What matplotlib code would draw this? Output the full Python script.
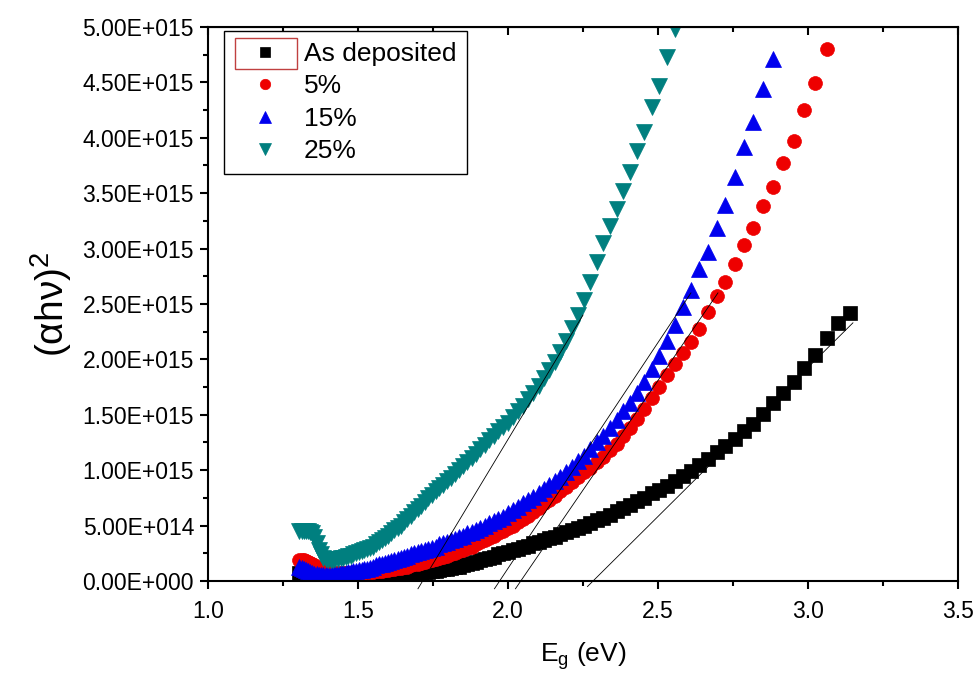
import numpy as np
import matplotlib
matplotlib.use("Agg")
import matplotlib.pyplot as plt
from matplotlib.ticker import MultipleLocator, FuncFormatter
from matplotlib.patches import Rectangle

plt.rcParams['font.family'] = ['Liberation Sans', 'DejaVu Sans']
plt.rcParams['mathtext.fontset'] = 'custom'
plt.rcParams['mathtext.rm'] = 'Liberation Sans'
plt.rcParams['mathtext.it'] = 'Liberation Sans:italic'

# photon energy grid (eV), shared by all samples
energy = [1.305, 1.312, 1.319, 1.326, 1.333, 1.341, 1.348, 1.355, 1.363, 1.370,
          1.378, 1.385, 1.393, 1.401, 1.409, 1.417, 1.425, 1.434, 1.442, 1.450,
          1.459, 1.467, 1.476, 1.485, 1.494, 1.503, 1.512, 1.521, 1.531, 1.540,
          1.550, 1.560, 1.570, 1.580, 1.590, 1.600, 1.610, 1.621, 1.632, 1.642,
          1.653, 1.664, 1.676, 1.687, 1.699, 1.710, 1.722, 1.734, 1.746, 1.759,
          1.771, 1.784, 1.797, 1.810, 1.824, 1.837, 1.851, 1.865, 1.879, 1.893,
          1.908, 1.922, 1.938, 1.953, 1.968, 1.984, 2.000, 2.016, 2.033, 2.050,
          2.067, 2.084, 2.102, 2.120, 2.138, 2.157, 2.175, 2.195, 2.214, 2.234,
          2.255, 2.275, 2.296, 2.318, 2.340, 2.362, 2.385, 2.408, 2.431, 2.455,
          2.480, 2.505, 2.531, 2.557, 2.583, 2.611, 2.638, 2.667, 2.696, 2.725,
          2.756, 2.787, 2.818, 2.851, 2.884, 2.918, 2.952, 2.988, 3.024, 3.062,
          3.100, 3.139]

# (alpha h nu)^2 in units of 1e15
as_deposited = [0.07, 0.07, 0.06, 0.06, 0.06, 0.05, 0.05, 0.05, 0.05, 0.05,
                0.05, 0.05, 0.05, 0.05, 0.05, 0.05, 0.05, 0.05, 0.05, 0.05,
                0.05, 0.05, 0.05, 0.05, 0.05, 0.05, 0.05, 0.05, 0.05, 0.05,
                0.05, 0.05, 0.05, 0.06, 0.06, 0.06, 0.06, 0.06, 0.06, 0.06,
                0.06, 0.07, 0.07, 0.07, 0.07, 0.08, 0.08, 0.08, 0.09, 0.09,
                0.10, 0.11, 0.11, 0.12, 0.13, 0.13, 0.14, 0.15, 0.16, 0.17,
                0.19, 0.20, 0.21, 0.22, 0.24, 0.25, 0.26, 0.28, 0.29, 0.31,
                0.32, 0.34, 0.35, 0.37, 0.39, 0.40, 0.42, 0.44, 0.46, 0.48,
                0.50, 0.52, 0.55, 0.57, 0.60, 0.63, 0.66, 0.69, 0.72, 0.75,
                0.79, 0.82, 0.86, 0.90, 0.95, 0.99, 1.05, 1.10, 1.16, 1.22,
                1.28, 1.35, 1.42, 1.51, 1.61, 1.70, 1.80, 1.92, 2.04, 2.19,
                2.33, 2.42]

pct5 = [0.19, 0.19, 0.19, 0.18, 0.17, 0.16, 0.15, 0.14, 0.13, 0.12,
        0.11, 0.10, 0.09, 0.08, 0.08, 0.07, 0.07, 0.07, 0.07, 0.07,
        0.07, 0.07, 0.07, 0.07, 0.07, 0.07, 0.07, 0.08, 0.08, 0.08,
        0.08, 0.09, 0.09, 0.09, 0.10, 0.10, 0.11, 0.11, 0.12, 0.12,
        0.13, 0.13, 0.14, 0.15, 0.155, 0.16, 0.17, 0.18, 0.19, 0.20,
        0.21, 0.22, 0.23, 0.24, 0.25, 0.27, 0.28, 0.30, 0.31, 0.33,
        0.35, 0.37, 0.39, 0.41, 0.43, 0.45, 0.48, 0.50, 0.53, 0.56,
        0.59, 0.62, 0.66, 0.70, 0.73, 0.77, 0.81, 0.85, 0.89, 0.94,
        0.98, 1.02, 1.07, 1.12, 1.18, 1.24, 1.31, 1.38, 1.46, 1.55,
        1.65, 1.75, 1.86, 1.96, 2.06, 2.16, 2.27, 2.43, 2.57, 2.70,
        2.86, 3.03, 3.19, 3.38, 3.56, 3.77, 3.97, 4.25, 4.49, 4.80]

pct15 = [0.13, 0.12, 0.11, 0.10, 0.09, 0.08, 0.07, 0.06, 0.06, 0.05,
         0.05, 0.05, 0.05, 0.05, 0.05, 0.06, 0.06, 0.06, 0.07, 0.07,
         0.07, 0.08, 0.08, 0.09, 0.09, 0.10, 0.10, 0.11, 0.11, 0.12,
         0.13, 0.14, 0.15, 0.15, 0.16, 0.17, 0.18, 0.19, 0.20, 0.21,
         0.22, 0.23, 0.24, 0.25, 0.26, 0.27, 0.28, 0.29, 0.30, 0.31,
         0.33, 0.34, 0.35, 0.37, 0.38, 0.40, 0.41, 0.43, 0.44, 0.46,
         0.48, 0.50, 0.52, 0.54, 0.56, 0.58, 0.61, 0.64, 0.67, 0.70,
         0.73, 0.76, 0.79, 0.83, 0.87, 0.90, 0.94, 0.98, 1.03, 1.08,
         1.13, 1.19, 1.25, 1.31, 1.38, 1.45, 1.53, 1.61, 1.70, 1.80,
         1.91, 2.03, 2.17, 2.31, 2.47, 2.63, 2.82, 2.97, 3.19, 3.39,
         3.65, 3.92, 4.14, 4.44, 4.71]

pct25 = [0.45, 0.45, 0.45, 0.45, 0.45, 0.44, 0.43, 0.40, 0.34, 0.28,
         0.24, 0.21, 0.20, 0.19, 0.19, 0.19, 0.20, 0.20, 0.21, 0.21,
         0.22, 0.23, 0.23, 0.24, 0.25, 0.26, 0.27, 0.28, 0.29, 0.30,
         0.31, 0.33, 0.35, 0.37, 0.39, 0.41, 0.43, 0.46, 0.48, 0.50,
         0.53, 0.56, 0.59, 0.62, 0.65, 0.68, 0.71, 0.75, 0.78, 0.81,
         0.84, 0.87, 0.90, 0.93, 0.97, 1.00, 1.04, 1.07, 1.11, 1.15,
         1.19, 1.23, 1.27, 1.31, 1.35, 1.39, 1.43, 1.48, 1.53, 1.58,
         1.64, 1.70, 1.76, 1.83, 1.90, 1.98, 2.07, 2.17, 2.28, 2.40,
         2.54, 2.70, 2.88, 3.05, 3.20, 3.36, 3.52, 3.69, 3.88, 4.05,
         4.28, 4.47, 4.73, 4.98]

samples = ['As deposited', '5%', '15%', '25%']
series = [as_deposited, pct5, pct15, pct25]
colors = ['#000000', '#ee0000', '#0000ee', '#007f7f']
markers = ['s', 'o', '^', 'v']
sizes = [9.5, 10, 11, 11]

# linear extrapolation lines (start and end points in eV, 1e15 units)
fit_x = [(1.700, 2.250), (1.955, 2.610), (2.025, 2.700), (2.265, 3.150)]
fit_y = [(-0.07, 2.40), (-0.07, 2.60), (-0.07, 2.60), (-0.05, 2.33)]

fig = plt.figure(figsize=(9.75, 6.73), dpi=100)
ax = fig.add_axes([0.2133, 0.1367, 0.7692, 0.8232])

for name, vals, c, m, ms in zip(samples, series, colors, markers, sizes):
    y = np.array(vals) * 1e15
    x = energy[:len(vals)]
    ax.plot(x, y, linestyle='none', marker=m, markersize=ms, color=c,
            markeredgecolor=c, markeredgewidth=0.5, label=name)

for fx, fy in zip(fit_x, fit_y):
    ax.plot(fx, np.array(fy) * 1e15, color='black', linewidth=0.6,
            clip_on=False)

ax.set_xlim(1.0, 3.5)
ax.set_ylim(0, 5e15)

ax.xaxis.set_major_locator(MultipleLocator(0.5))
ax.xaxis.set_minor_locator(MultipleLocator(0.25))
ax.yaxis.set_major_locator(MultipleLocator(0.5e15))
ax.yaxis.set_minor_locator(MultipleLocator(0.25e15))


def sci_fmt(v, pos):
    if v == 0:
        return '0.00E+000'
    e = int(np.floor(np.log10(abs(v))))
    return f'{v / 10**e:.2f}E{e:+04d}'


ax.yaxis.set_major_formatter(FuncFormatter(sci_fmt))
ax.xaxis.set_major_formatter(FuncFormatter(lambda v, p: f'{v:.1f}'))

for s in ax.spines.values():
    s.set_linewidth(1.5)
ax.tick_params(which='both', direction='out', width=1.5, labelsize=16.5,
               top=False, right=False)
ax.tick_params(which='major', length=6)
ax.tick_params(which='minor', length=3.5)
ax.tick_params(axis='x', pad=8)
ax.tick_params(axis='y', pad=4)

# inward ticks on the top edge
top = ax.secondary_xaxis('top')
top.xaxis.set_major_locator(MultipleLocator(0.5))
top.xaxis.set_minor_locator(MultipleLocator(0.25))
top.tick_params(which='both', direction='in', width=1.5, labeltop=False)
top.tick_params(which='major', length=6)
top.tick_params(which='minor', length=3.5)

ax.set_xlabel(r'E$_{\mathregular{g}}$ (eV)', fontsize=19, labelpad=12)
ax.set_ylabel('(αhν)$^{\\mathregular{2}}$', fontsize=28, labelpad=6)

leg = ax.legend(loc='upper left', bbox_to_anchor=(0.022, 0.992),
                borderaxespad=0, fontsize=19, frameon=True, fancybox=False,
                edgecolor='black', framealpha=1, labelspacing=0.32,
                handletextpad=0.3, borderpad=0.4, handlelength=2.3,
                markerscale=0.75)
leg.get_frame().set_linewidth(1.0)

# red selection box round the first legend symbol
ax.add_patch(Rectangle((0.036, 0.924), 0.083, 0.056, transform=ax.transAxes,
                       fill=False, edgecolor='#c04040', linewidth=1.0,
                       zorder=10))

fig.savefig('out.png', dpi=100)
